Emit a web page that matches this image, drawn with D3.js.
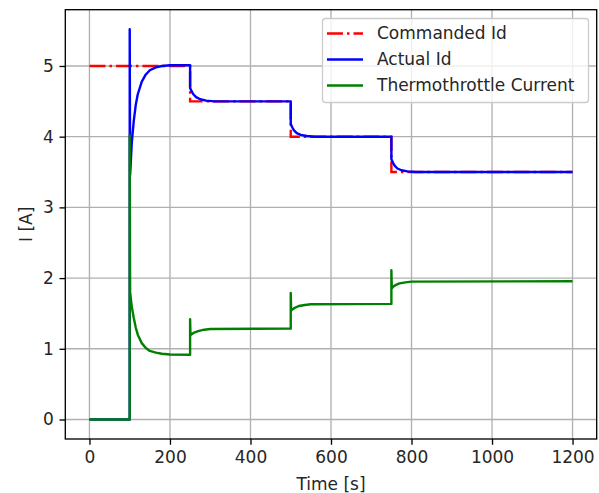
<!DOCTYPE html>
<html>
<head>
<meta charset="utf-8">
<script src="https://cdn.jsdelivr.net/npm/d3@7"></script>
<style>
  body { margin: 0; background: #fff; }
  text { font-family: "DejaVu Sans", sans-serif; fill: #262626; }
</style>
</head>
<body>
<svg width="599" height="493"></svg>
<script>
// values: [time s, current A]
const commandedId = [[0, 5], [250, 5], [250, 4.5], [500, 4.5], [500, 4], [750, 4], [750, 3.5], [1200, 3.5]];

const actualId = [[0, 0], [100, 0], [100, 5.52], [101, 3.46], [105, 3.9], [110, 4.22], [115, 4.45],
  [120, 4.6], [130, 4.78], [140, 4.88], [150, 4.94], [165, 4.98], [180, 5.0], [200, 5.01], [250, 5.01],
  [250, 4.69], [254, 4.64], [258, 4.6], [265, 4.56], [275, 4.53], [290, 4.51], [310, 4.5], [500, 4.5],
  [500, 4.18], [504, 4.13], [508, 4.09], [515, 4.05], [525, 4.025], [540, 4.01], [560, 4.0], [750, 4.0],
  [750, 3.68], [754, 3.63], [758, 3.59], [765, 3.55], [775, 3.525], [790, 3.51], [810, 3.5], [1200, 3.5]];

const thermoCurrent = [[0, 0], [100, 0], [100, 4.02], [101, 1.8], [105, 1.6], [110, 1.44], [115, 1.3],
  [120, 1.2], [130, 1.08], [140, 1.01], [150, 0.97], [165, 0.945], [180, 0.93], [200, 0.92], [250, 0.915],
  [250, 1.42], [251, 1.195], [255, 1.21], [260, 1.23], [270, 1.25], [285, 1.27], [300, 1.28], [500, 1.285],
  [500, 1.79], [501, 1.54], [505, 1.56], [510, 1.58], [520, 1.605], [535, 1.62], [550, 1.63], [750, 1.635],
  [750, 2.11], [751, 1.855], [755, 1.88], [760, 1.9], [770, 1.925], [785, 1.94], [800, 1.95], [1200, 1.955]];

const xTicks = [0, 200, 400, 600, 800, 1000, 1200];
const yTicks = [0, 1, 2, 3, 4, 5];
const legendLabels = ["Commanded Id", "Actual Id", "Thermothrottle Current"];

const plotL = 65.3, plotR = 596.7, plotT = 9.7, plotB = 439;
const fontPx = "17px";
const lw = 2.4;
const dashDot = "16,4,2.5,4";
const svg = d3.select("svg");

// matplotlib style 5% margins
const allPts = commandedId.concat(actualId, thermoCurrent);
const [x0, x1] = d3.extent(allPts, d => d[0]);
const [y0, y1] = d3.extent(allPts, d => d[1]);
const x = d3.scaleLinear().domain([x0 - 0.05 * (x1 - x0), x1 + 0.05 * (x1 - x0)]).range([plotL, plotR]);
const y = d3.scaleLinear().domain([y0 - 0.05 * (y1 - y0), y1 + 0.05 * (y1 - y0)]).range([plotB, plotT]);

svg.append("defs").append("clipPath").attr("id", "clip")
  .append("rect").attr("x", plotL).attr("y", plotT).attr("width", plotR - plotL).attr("height", plotB - plotT);

// grid
svg.append("g").selectAll("line").data(xTicks).enter().append("line")
  .attr("x1", d => x(d)).attr("x2", d => x(d)).attr("y1", plotT).attr("y2", plotB)
  .attr("stroke", "#b0b0b0").attr("stroke-width", 1.33);
svg.append("g").selectAll("line").data(yTicks).enter().append("line")
  .attr("y1", d => y(d)).attr("y2", d => y(d)).attr("x1", plotL).attr("x2", plotR)
  .attr("stroke", "#b0b0b0").attr("stroke-width", 1.33);

const line = d3.line().x(d => x(d[0])).y(d => y(d[1]));
const plot = svg.append("g").attr("clip-path", "url(#clip)");
plot.append("path").datum(commandedId).attr("d", line).attr("fill", "none")
  .attr("stroke", "#ff0000").attr("stroke-width", lw).attr("stroke-dasharray", dashDot);
plot.append("path").datum(actualId).attr("d", line).attr("fill", "none")
  .attr("stroke", "#0000ff").attr("stroke-width", lw).attr("stroke-linejoin", "round");
plot.append("path").datum(thermoCurrent).attr("d", line).attr("fill", "none")
  .attr("stroke", "#008000").attr("stroke-width", lw).attr("stroke-linejoin", "round");

// axes
const xAxis = d3.axisBottom(x).tickValues(xTicks).tickSize(5.8).tickPadding(5.8).tickFormat(d3.format("d"));
const yAxis = d3.axisLeft(y).tickValues(yTicks).tickSize(5.8).tickPadding(5.8).tickFormat(d3.format("d"));
const gx = svg.append("g").attr("transform", `translate(0,${plotB})`).call(xAxis);
const gy = svg.append("g").attr("transform", `translate(${plotL},0)`).call(yAxis);
[gx, gy].forEach(g => {
  g.select(".domain").remove();
  g.selectAll(".tick line").attr("stroke", "#000").attr("stroke-width", 1.33);
  g.selectAll(".tick text").style("font-size", fontPx).attr("fill", "#262626");
});

svg.append("rect").attr("x", plotL).attr("y", plotT).attr("width", plotR - plotL).attr("height", plotB - plotT)
  .attr("fill", "none").attr("stroke", "#000").attr("stroke-width", 1.33);

svg.append("text").attr("x", (plotL + plotR) / 2).attr("y", 490).attr("text-anchor", "middle")
  .style("font-size", fontPx).text("Time [s]");
svg.append("text").attr("transform", `translate(32,${(plotT + plotB) / 2}) rotate(-90)`)
  .attr("text-anchor", "middle").style("font-size", fontPx).text("I [A]");

// legend
const lg = svg.append("g");
lg.append("rect").attr("x", 322.5).attr("y", 18.5).attr("width", 266).attr("height", 84).attr("rx", 3)
  .attr("fill", "#fff").attr("fill-opacity", 0.8).attr("stroke", "#cccccc").attr("stroke-width", 1.33);
const legendStyles = [
  {color: "#ff0000", dash: dashDot},
  {color: "#0000ff", dash: null},
  {color: "#008000", dash: null}
];
legendLabels.forEach((lab, i) => {
  const cy = 33.5 + i * 26;
  lg.append("line").attr("x1", 327).attr("x2", 363).attr("y1", cy).attr("y2", cy)
    .attr("stroke", legendStyles[i].color).attr("stroke-width", lw)
    .attr("stroke-dasharray", legendStyles[i].dash);
  lg.append("text").attr("x", 377).attr("y", cy).attr("dy", "0.35em")
    .style("font-size", fontPx).text(lab);
});
</script>
</body>
</html>
